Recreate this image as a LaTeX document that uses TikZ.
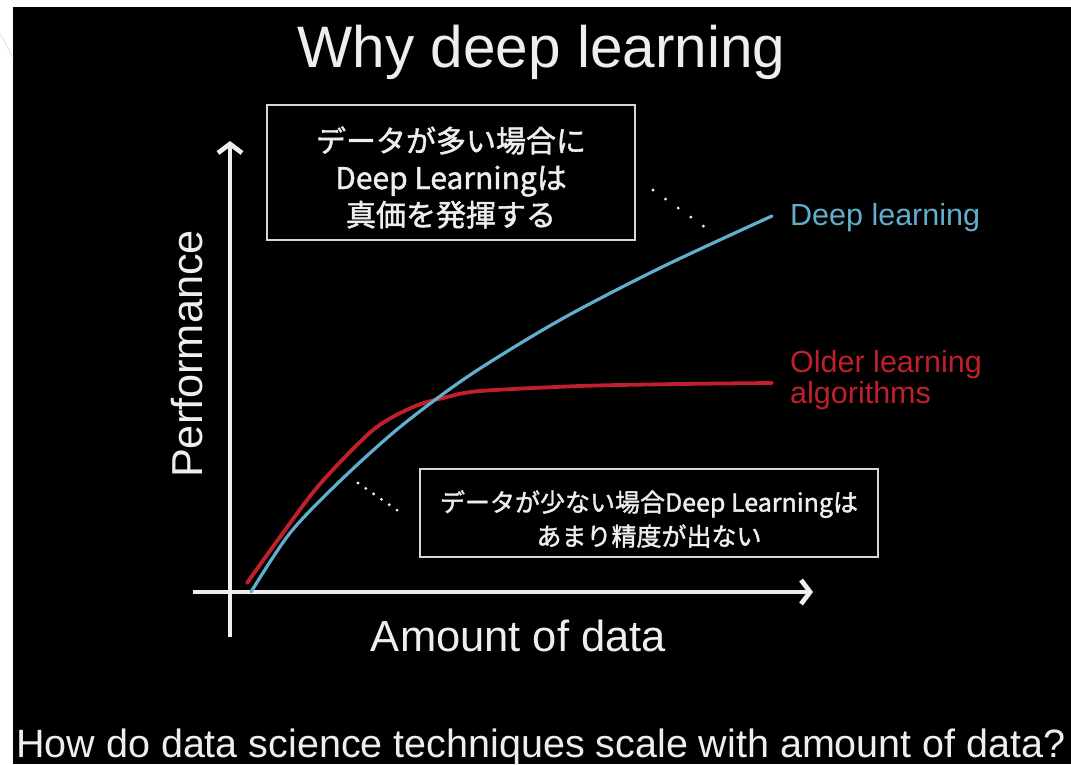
\documentclass[tikz,border=0pt]{standalone}
\usepackage{fontspec}
\setmainfont{Liberation Sans}
\newfontfamily\jpfont[FakeBold=1.5]{Noto Sans CJK JP}
\usetikzlibrary{arrows.meta}

\definecolor{slidebg}{HTML}{000000}
\definecolor{ink}{HTML}{EEEEEE}
\definecolor{boxline}{HTML}{D6D6D6}
\definecolor{dlblue}{HTML}{62AECF}
\definecolor{oldred}{HTML}{C0202B}
\definecolor{edgeline}{HTML}{D8ECEC}

\tikzset{
  axis/.style={draw=ink, line width=3.6pt,
    -{Straight Barb[length=9pt,width=24pt,line width=0pt 1.3]}},
  notebox/.style={draw=boxline, line width=1.8pt, inner sep=0pt},
  notetext/.style={text=ink, align=center, inner sep=0pt, font=\jpfont},
  dots/.style={draw=ink, line width=3.2pt, line cap=round,
    dash pattern=on 0pt off 15.5pt},
  curvelabel/.style={inner sep=0pt, anchor=base west,
    font=\fontsize{30.5}{31}\selectfont},
}

\begin{document}
\begin{tikzpicture}[x=1pt, y=-1pt]
  % page frame: thin white margins at the top and left, black slide
  \fill[white] (0,0) rectangle (1071,764);
  \useasboundingbox (0,0) rectangle (1071,764);
  \fill[slidebg] (13,7) rectangle (1071,764);
  \draw[edgeline, line width=1pt] (0,33) -- (13,58);

  % title
  \node[text=ink, inner sep=0pt, anchor=base,
        font=\fontsize{58.5}{60}\selectfont] (title) at (541.5,67) {Why deep learning};

  % axes
  \coordinate (ybot) at (230,637);
  \coordinate (ytop) at (230,141);
  \coordinate (xleft) at (193,592);
  \coordinate (xright) at (813,592);
  \draw[axis] (ybot) -- (ytop);
  \draw[axis] (xleft) -- (xright);

  \node[text=ink, inner sep=0pt, anchor=base, rotate=90,
        font=\fontsize{43.3}{44}\selectfont] (ylab) at (202,354) {Performance};
  \node[text=ink, inner sep=0pt, anchor=base,
        font=\fontsize{43.5}{44}\selectfont] (xlab) at (518.5,651) {Amount of data};

  % older learning algorithms
  \draw[oldred, line width=3.8pt, line cap=round]
    plot[smooth, tension=0.5] coordinates {
      (247,583) (280,537) (320,484) (373,430) (413,407) (447,397)
      (480,391) (580,386) (680,384) (772,383)};
  % deep learning
  \draw[dlblue, line width=3.2pt, line cap=round]
    plot[smooth, tension=0.5] coordinates {
      (251,592) (290,533) (340,481) (400,427) (470,375) (560,320)
      (660,268) (772,216)};

  \node[curvelabel, text=dlblue] (dllab) at (790,225) {Deep learning};
  \node[curvelabel, text=oldred] (oldlab1) at (790,372) {Older learning};
  \node[curvelabel, text=oldred] (oldlab2) at (790,403) {algorithms};

  % callout boxes
  \node[notebox, minimum width=368pt, minimum height=135pt] (upbox) at (451,172.5) {};
  \node[notetext, font=\jpfont\fontsize{30}{37}\selectfont] (uptext)
    at ([yshift=-5pt]upbox.center)
    {データが多い場合に\\Deep Learningは\\真価を発揮する};

  \node[notebox, minimum width=458pt, minimum height=88pt] (lowbox) at (649,513) {};
  \node[notetext, font=\jpfont\fontsize{25}{34}\selectfont] (lowtext)
    at ([yshift=-6pt]lowbox.center)
    {データが少ない場合Deep Learningは\\あまり精度が出ない};

  % dotted leaders
  \coordinate (dotAa) at (653,190);
  \coordinate (dotAb) at (706,228);
  \coordinate (dotBa) at (358,483);
  \coordinate (dotBb) at (404,515);
  \draw[dots] (dotAa) -- (dotAb);
  \draw[dots, dash pattern=on 0pt off 9.5pt] (dotBa) -- (dotBb);

  % caption
  \node[text=ink, inner sep=0pt, anchor=base west,
        font=\fontsize{39.5}{40}\selectfont] (caption) at (16,757)
    {How do data science techniques scale with amount of data?};
\end{tikzpicture}
\end{document}
